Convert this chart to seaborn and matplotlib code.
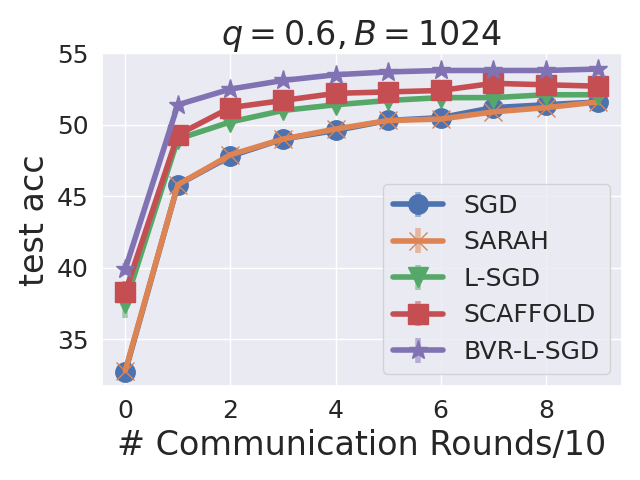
import numpy as np
import matplotlib
matplotlib.use("Agg")
import matplotlib.pyplot as plt
import seaborn as sns

# rounds (x10)
rounds = list(range(10))

# mean test accuracy per method
sgd = [32.7, 45.8, 47.8, 49.0, 49.6, 50.3, 50.5, 51.2, 51.4, 51.6]
sarah = [32.8, 45.8, 47.9, 49.0, 49.7, 50.3, 50.4, 50.9, 51.2, 51.6]
lsgd = [37.5, 49.0, 50.2, 51.0, 51.4, 51.7, 51.9, 51.9, 52.1, 52.1]
scaffold = [38.3, 49.3, 51.2, 51.7, 52.2, 52.3, 52.4, 52.9, 52.8, 52.7]
bvr = [39.9, 51.4, 52.5, 53.1, 53.5, 53.7, 53.8, 53.8, 53.8, 53.9]

# spread across runs
sgd_std = [0.3, 0.2, 0.2, 0.2, 0.2, 0.2, 0.2, 0.2, 0.2, 0.2]
sarah_std = [0.3, 0.2, 0.2, 0.2, 0.2, 0.2, 0.2, 0.2, 0.2, 0.2]
lsgd_std = [1.0, 0.3, 0.2, 0.2, 0.2, 0.2, 0.2, 0.2, 0.2, 0.2]
scaffold_std = [0.8, 0.3, 0.2, 0.2, 0.2, 0.2, 0.2, 0.2, 0.2, 0.2]
bvr_std = [0.4, 0.2, 0.2, 0.2, 0.2, 0.2, 0.2, 0.2, 0.2, 0.2]

labels = ["SGD", "SARAH", "L-SGD", "SCAFFOLD", "BVR-L-SGD"]
means = [sgd, sarah, lsgd, scaffold, bvr]
stds = [sgd_std, sarah_std, lsgd_std, scaffold_std, bvr_std]
markers = ["o", "x", "v", "s", "*"]

sns.set_theme(style="darkgrid")
colors = sns.color_palette("deep")

fig, ax = plt.subplots(figsize=(6.4, 4.8), dpi=100)

for i, lab in enumerate(labels):
    ms = 14 if markers[i] != "x" else 13
    ax.errorbar(rounds, means[i], yerr=stds[i], label=lab, color=colors[i],
                marker=markers[i], markersize=ms, linewidth=4,
                elinewidth=4, ecolor=(*colors[i], 0.5), capsize=0)

ax.set_ylim(31.7, 55)
ax.set_yticks([35, 40, 45, 50, 55])
ax.set_xticks([0, 2, 4, 6, 8])
ax.tick_params(labelsize=18)
ax.set_xlabel("# Communication Rounds/10", fontsize=24)
ax.set_ylabel("test acc", fontsize=24)
ax.set_title("$q=0.6, B=1024$", fontsize=24)
ax.legend(loc="lower right", fontsize=18)

fig.tight_layout()
fig.savefig("out.png")
